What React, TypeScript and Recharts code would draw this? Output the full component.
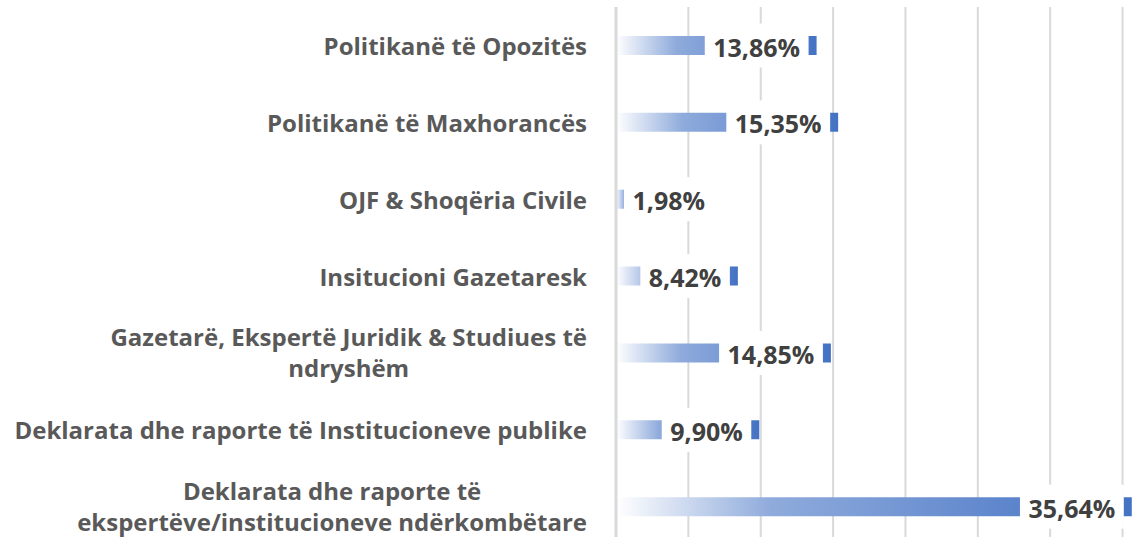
import { BarChart, Bar, XAxis, YAxis, CartesianGrid, LabelList } from "recharts";

const categories = [
  "Politikanë të Opozitës",
  "Politikanë të Maxhorancës",
  "OJF & Shoqëria Civile",
  "Insitucioni Gazetaresk",
  "Gazetarë, Ekspertë Juridik & Studiues të\nndryshëm",
  "Deklarata dhe raporte të Institucioneve publike",
  "Deklarata dhe raporte të\nekspertëve/institucioneve ndërkombëtare",
];
const shares = [13.86, 15.35, 1.98, 8.42, 14.85, 9.9, 35.64];
const gridTicks = [0, 5, 10, 15, 20, 25, 30, 35];

const data = categories.map((name, i) => ({ name, value: shares[i] }));

const CAT_FONT = "bold 24px 'Open Sans'";
const VAL_FONT = "bold 25px 'Open Sans'";

let ctx: CanvasRenderingContext2D | null = null;
function textWidth(text: string, font: string) {
  if (!ctx) ctx = document.createElement("canvas").getContext("2d");
  if (!ctx) return text.length * 12;
  ctx.font = font;
  return ctx.measureText(text).width;
}

function CategoryTick(props: any) {
  const { x, y, payload } = props;
  const lines: string[] = String(payload.value).split("\n");
  const right = x - 21;
  const lineH = 31;
  const top = y - ((lines.length - 1) * lineH) / 2 - 1;
  if (lines.length === 1) {
    return (
      <text x={right} y={y} textAnchor="end" dominantBaseline="central" fill="#595959"
        style={{ font: CAT_FONT }}>
        {lines[0]}
      </text>
    );
  }
  const maxW = Math.max(...lines.map((l) => textWidth(l, CAT_FONT)));
  return (
    <text textAnchor="middle" fill="#595959" style={{ font: CAT_FONT }}>
      {lines.map((l, i) => (
        <tspan key={i} x={right - maxW / 2} y={top + i * lineH} dominantBaseline="central">
          {l}
        </tspan>
      ))}
    </text>
  );
}

function ValueLabel(props: any) {
  const { x, y, width, height, value } = props;
  const txt = Number(value).toFixed(2).replace(".", ",") + "%";
  const w = textWidth(txt, VAL_FONT) + 17;
  let left = x + width - 8 - w;
  if (left < x + 8) left = x + 8;
  const cy = y + height / 2;
  return (
    <g>
      <rect x={left} y={cy - 22} width={w} height={44} fill="#ffffff" />
      <text x={left + w / 2} y={cy + 1} textAnchor="middle" dominantBaseline="central"
        fill="#404040" style={{ font: VAL_FONT }}>
        {txt}
      </text>
    </g>
  );
}

export default function App() {
  return (
    <div style={{ position: "absolute", left: 0, top: 0, width: 1134, height: 537, overflow: "hidden", background: "#fff" }}>
      <BarChart
        width={1137}
        height={545}
        data={data}
        layout="vertical"
        margin={{ top: 7, right: 0, bottom: 0, left: 0 }}
        barCategoryGap={0}
      >
        <defs>
          <linearGradient id="barGrad" x1="0" y1="0" x2="1" y2="0">
            <stop offset="0" stopColor="#ffffff" />
            <stop offset="0.3" stopColor="#8fabdc" />
            <stop offset="1" stopColor="#4472c4" />
          </linearGradient>
        </defs>
        <CartesianGrid horizontal={false} stroke="#d9d9d9" strokeWidth={2} />
        <XAxis type="number" domain={[0, 36]} ticks={gridTicks} hide />
        <YAxis
          type="category"
          dataKey="name"
          width={616}
          axisLine={{ stroke: "#d9d9d9", strokeWidth: 3 }}
          tickLine={false}
          tick={<CategoryTick />}
          interval={0}
        />
        <Bar dataKey="value" fill="url(#barGrad)" barSize={19} isAnimationActive={false}>
          <LabelList dataKey="value" content={<ValueLabel />} />
        </Bar>
      </BarChart>
    </div>
  );
}
